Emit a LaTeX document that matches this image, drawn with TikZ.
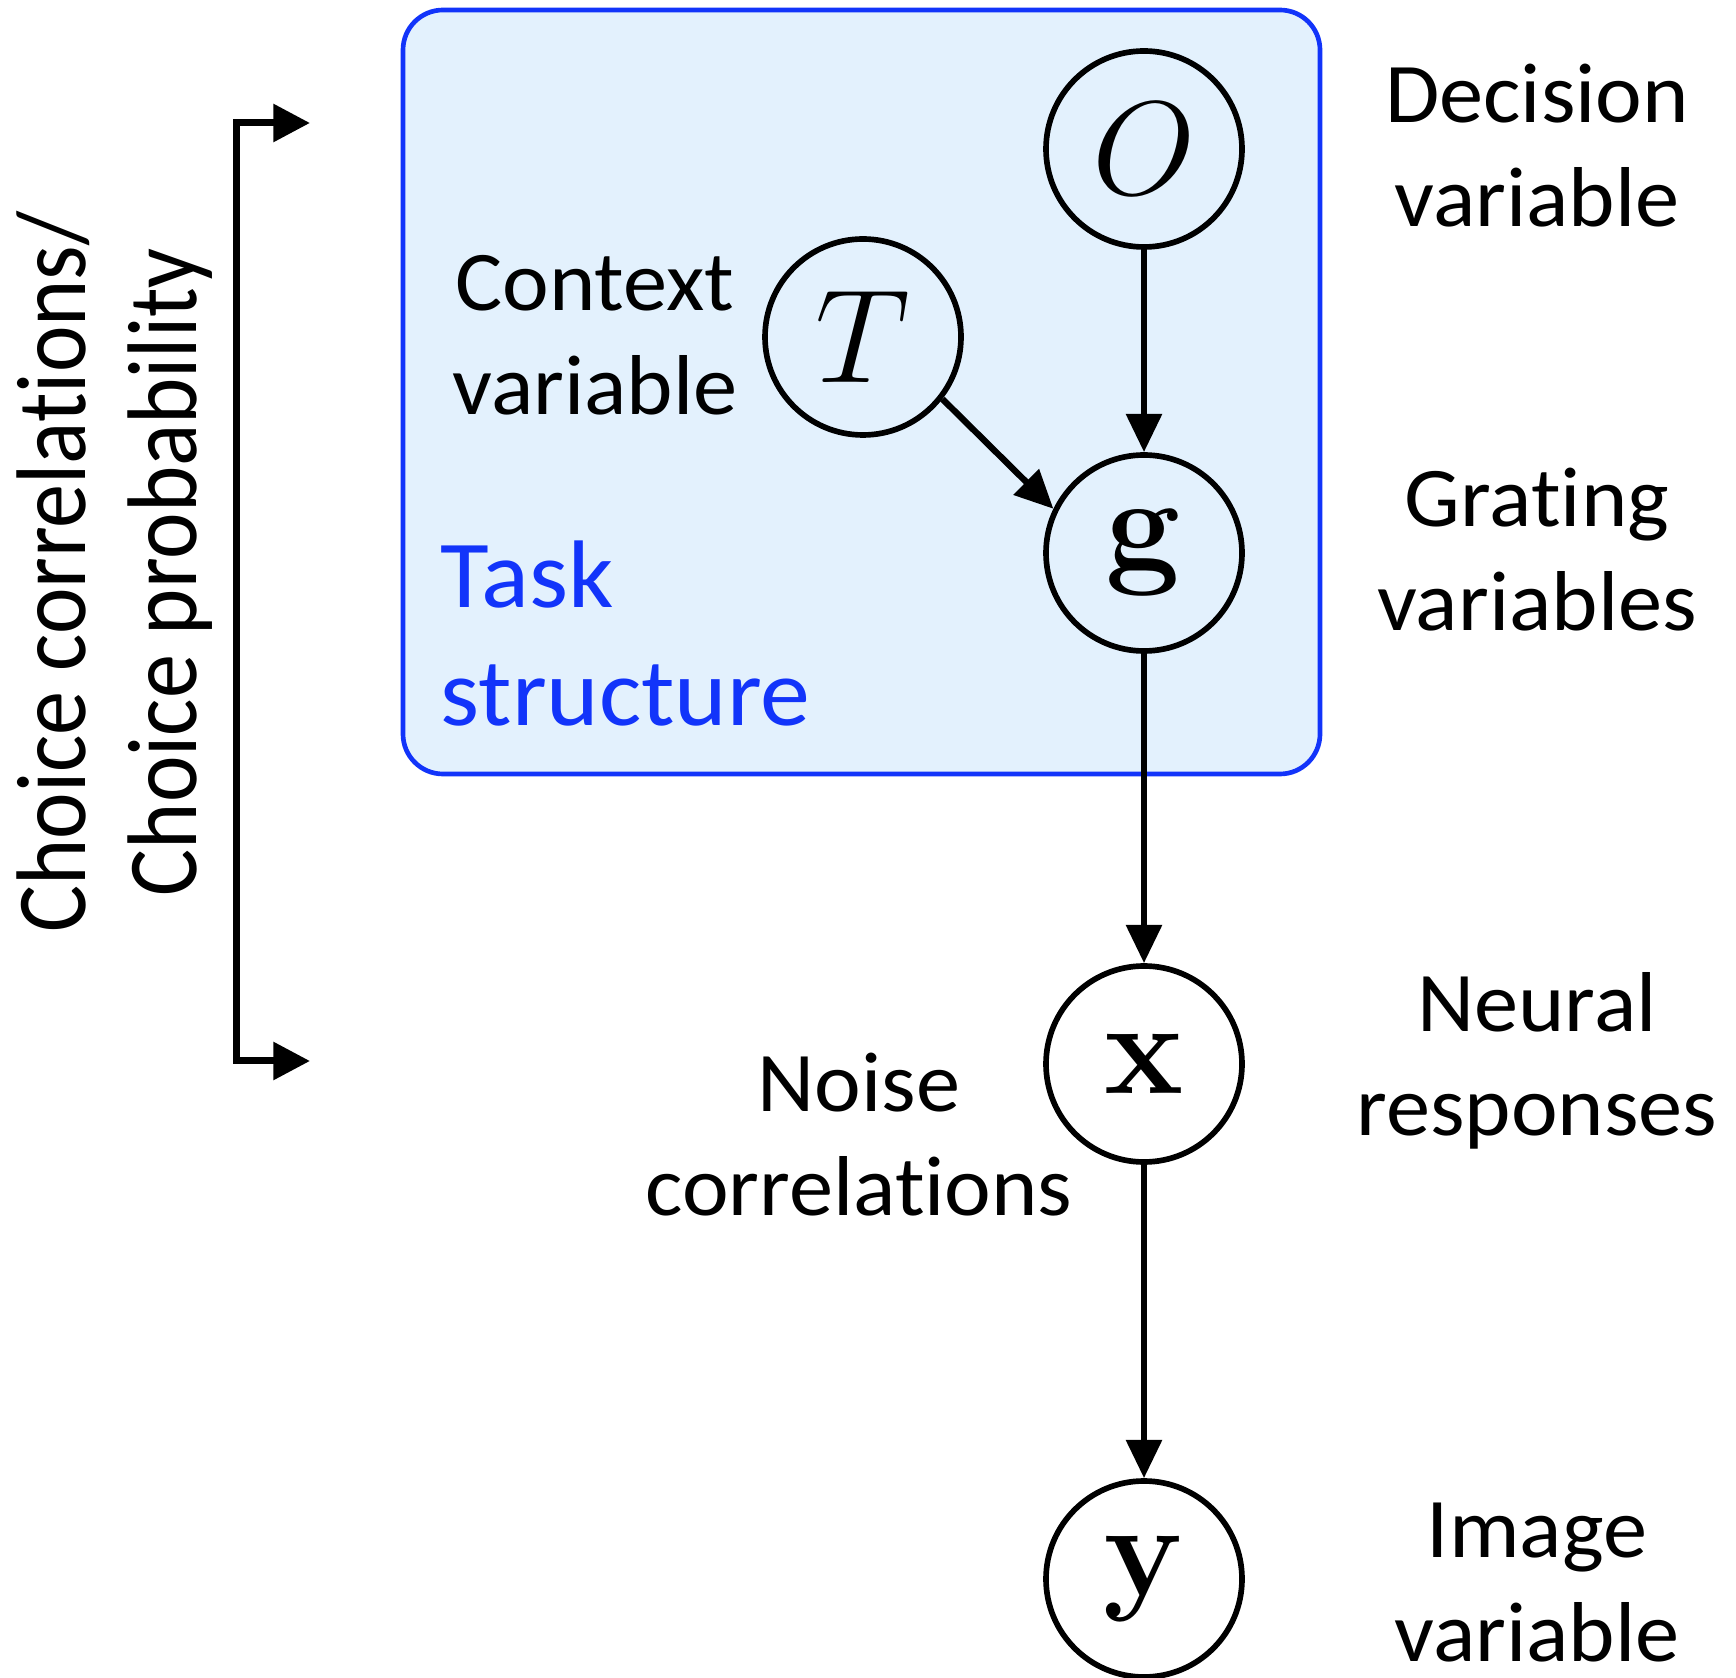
\documentclass[tikz,border=0pt]{standalone}
\usepackage{fix-cm}
\usepackage[no-math]{fontspec}
\setmainfont{Carlito}[RawFeature={-liga}, FakeStretch=1.04]
\usetikzlibrary{arrows.meta}
\definecolor{taskblue}{RGB}{18,52,250}
\definecolor{taskfill}{RGB}{227,241,253}
\tikzset{
  var/.style={circle, draw, line width=1.7pt, minimum size=58.8pt, inner sep=0pt,
    font=\fontsize{40}{48}\selectfont},
  lbl/.style={align=center, anchor=base, inner sep=0pt,
    font=\fontsize{25.5}{31.2}\selectfont},
  edge/.style={line width=1.9pt, -{Triangle[length=11.5pt,width=10.5pt]}},
}
\begin{document}
\begin{tikzpicture}[x=0.3pt, y=-0.3pt]
  \useasboundingbox (0,0) rectangle (1736,1678);
  % task structure plate
  \draw[taskblue, fill=taskfill, line width=1.4pt, rounded corners=12pt]
    (403,10) rectangle (1320,774);
  \node[anchor=base west, align=left, inner sep=0pt, text=taskblue,
        font=\fontsize{28.8}{35.4}\selectfont] (task) at (440,726) {Task\\structure};

  % variables
  \node[var] (O) at (1144,149) {$O$};
  \node[var] (T) at (863,337) {$T$};
  \node[var] (g) at (1144,553) {$\mathbf{g}$};
  \node[var] (x) at (1144,1064) {$\mathbf{x}$};
  \node[var] (y) at (1144,1579) {$\mathbf{y}$};

  % dependencies
  \draw[edge] (O.south) -- (g.north);
  \draw[edge] (T.-38) -- (g.154);
  \draw[edge] (g.south) -- (x.north);
  \draw[edge] (x.south) -- (y.north);

  % labels (anchored at the baseline of their last line)
  \node[lbl] (lO) at (1537,227) {Decision\\variable};
  \node[lbl] (lT) at (595,415) {Context\\variable};
  \node[lbl] (lg) at (1537,631) {Grating\\variables};
  \node[lbl] (lx) at (1537,1135) {Neural\\responses};
  \node[lbl] (ln) at (859,1215) {Noise\\correlations};
  \node[lbl] (ly) at (1537,1661) {Image\\variable};

  % choice bracket
  \coordinate (bt) at (310,123);
  \coordinate (bb) at (310,1061);
  \draw[line width=2.1pt, line join=miter,
        {Triangle[length=11pt,width=11pt]}-{Triangle[length=11pt,width=11pt]}]
    (bt) -- (236,123) -- (236,1061) -- (bb);
  \node[rotate=90, align=center, inner sep=0pt, xscale=0.856,
        font=\fontsize{29.7}{33.3}\selectfont] (choice) at (115,572)
    {Choice correlations/\\Choice probability};
\end{tikzpicture}
\end{document}
